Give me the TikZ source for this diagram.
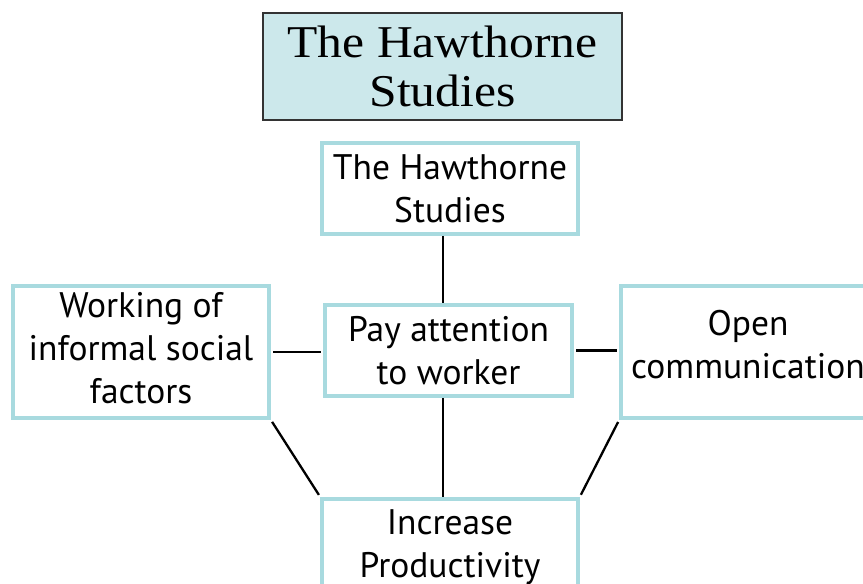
\documentclass[tikz,border=0pt]{standalone}
\usepackage{fontspec}
\setmainfont{Liberation Serif}
\newfontfamily\boxfont{PT Sans}
\newfontfamily\titlefont[FakeStretch=1.09]{Liberation Serif}
\definecolor{boxline}{HTML}{A8DADF}
\definecolor{titlefill}{HTML}{CCE8EB}
\tikzset{
  sbox/.style={draw=boxline, line width=3.5pt, fill=white, align=center,
    inner sep=0pt, font=\boxfont\fontsize{35.5}{43}\selectfont},
  tbox/.style={draw=black!80, line width=1.2pt, fill=titlefill, align=center,
    inner sep=0pt, font=\titlefont\fontsize{45.5}{49}\selectfont},
  conn/.style={line width=2.3pt, black},
  hconn/.style={conn, shorten <=2.5pt, shorten >=2.5pt}
}
\begin{document}
\begin{tikzpicture}[x=1pt,y=-1pt]
\useasboundingbox (0,0) rectangle (863,584);
\clip (0,0) rectangle (863,584);
\coordinate (vx) at (443,0);
\node[tbox, minimum width=359pt, minimum height=107pt] (title) at (442.5,66.5) {The Hawthorne\\Studies};
\node[sbox, minimum width=256pt, minimum height=91pt] (top) at (450,188.5) {The Hawthorne\\Studies};
\node[sbox, minimum width=247pt, minimum height=91pt] (mid) at (448.5,350.5) {Pay attention\\to worker};
\node[sbox, minimum width=256pt, minimum height=132pt, text depth=8pt] (left) at (141,352) {Working of\\informal social\\factors};
\node[sbox, minimum width=254pt, minimum height=132pt, text depth=16pt] (right) at (748,352) {Open\\communication};
\node[sbox, minimum width=256pt, minimum height=96pt, anchor=north] (bot) at (450,497) {Increase\\Productivity};
\draw[conn] (top.south -| vx) -- (mid.north -| vx);
\draw[hconn] (left.east) -- (left.east -| mid.west);
\draw[hconn] (mid.east) -- (mid.east -| right.west);
\draw[conn] (mid.south -| vx) -- (bot.north -| vx);
\draw[hconn] (left.south east) -- (bot.north west);
\draw[hconn] (right.south west) -- (bot.north east);
\end{tikzpicture}
\end{document}
